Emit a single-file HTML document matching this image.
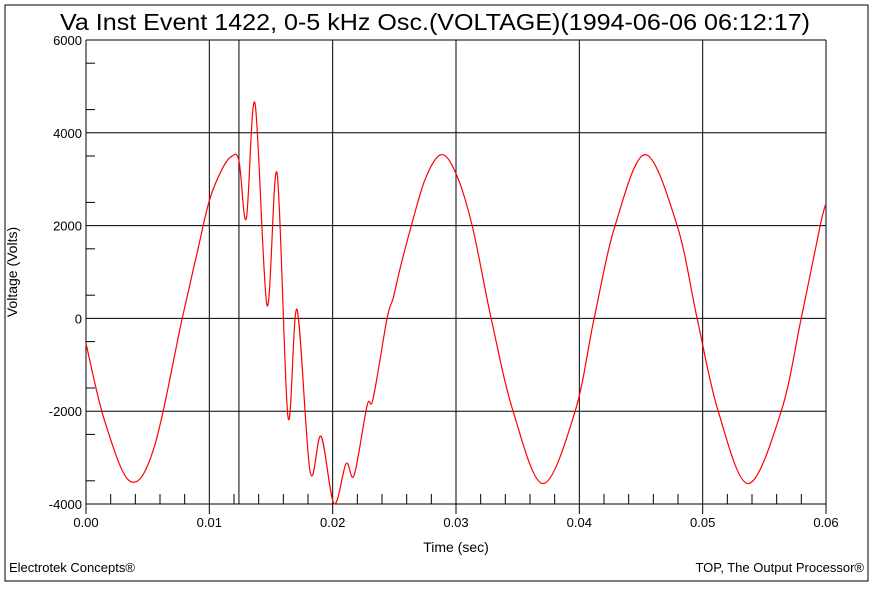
<!DOCTYPE html>
<html><head><meta charset="utf-8"><style>
body{margin:0;background:#fff;}
svg text{font-family:"Liberation Sans",sans-serif;}
</style></head><body>
<svg width="873" height="587" xmlns="http://www.w3.org/2000/svg">
<rect x="5" y="5" width="863" height="576" fill="none" stroke="#000" stroke-width="1"/>
<text x="60" y="30" font-size="23" textLength="750" lengthAdjust="spacingAndGlyphs">Va Inst Event 1422, 0-5 kHz Osc.(VOLTAGE)(1994-06-06 06:12:17)</text>
<g id="grid"></g>
<g id="axes"></g>
<path id="wave" fill="none" stroke="#f00" stroke-width="1.2"/>
<text x="17" y="272" font-size="14" text-anchor="middle" transform="rotate(-90 17 272)">Voltage (Volts)</text>
<text x="456" y="552" font-size="14" text-anchor="middle">Time (sec)</text>
<text x="9" y="572" font-size="13">Electrotek Concepts®</text>
<text x="864" y="572" font-size="13" text-anchor="end">TOP, The Output Processor®</text>
</svg>
<script>
const times=[0,0.0015,0.00357,0.0055,0.0078,0.009,0.010,0.011,0.0118,0.0124,0.0130,0.0137,0.01468,0.01549,0.01638,0.01711,0.01817,0.01906,0.02011,0.02109,0.02174,0.02279,0.02328,0.02441,0.0249,0.02547,0.02628,0.0275,0.02879,0.030,0.03131,0.03285,0.03463,0.03706,0.03966,0.0412,0.0429,0.04534,0.04793,0.04955,0.05126,0.05369,0.05637,0.05799,0.05953,0.0600];
const volts=[-540,-2200,-3510,-2800,0,1400,2540,3200,3490,3400,2150,4640,280,3130,-2130,190,-3300,-2540,-3990,-3130,-3380,-1880,-1730,0,430,1080,1900,3000,3530,3120,2000,0,-2000,-3560,-2000,0,2000,3530,2000,0,-2000,-3560,-2000,0,2000,2480];
const yTicks=[6000,4000,2000,0,-2000,-4000];
const xTicks=[0,0.01,0.02,0.03,0.04,0.05,0.06];
const xTickLabels=["0.00","0.01","0.02","0.03","0.04","0.05","0.06"];
const X0=86,X1=826,Y0=40,Y1=504;
const sx=t=>X0+(t-0)/(0.06)*(X1-X0);
const sy=v=>Y0+(6000-v)/10000*(Y1-Y0);
const NS="http://www.w3.org/2000/svg";
const grid=document.getElementById('grid'),axes=document.getElementById('axes');
function line(p,x1,y1,x2,y2,w){const l=document.createElementNS(NS,'line');l.setAttribute('x1',x1);l.setAttribute('y1',y1);l.setAttribute('x2',x2);l.setAttribute('y2',y2);l.setAttribute('stroke','#000');l.setAttribute('stroke-width',w||1);p.appendChild(l);return l;}
function txt(p,x,y,s,a){const t=document.createElementNS(NS,'text');t.setAttribute('x',x);t.setAttribute('y',y);t.setAttribute('font-size',13);t.setAttribute('text-anchor',a);t.textContent=s;p.appendChild(t);return t;}
yTicks.forEach(v=>{const l=line(grid,X0,sy(v),X1,sy(v));


const t=txt(axes,X0-4,sy(v)+5,String(v),'end');

});
for(let v=-3500;v<6000;v+=1000){const l=line(axes,X0,sy(v),X0+9,sy(v));

}
xTicks.forEach((t,i)=>{const l=line(grid,sx(t),Y0,sx(t),Y1+10);


const tt=txt(axes,sx(t),Y1+23,xTickLabels[i],'middle');

});
for(let k=1;k<30;k++){if(k%5===0)continue;const x=sx(k*0.002);const l=line(axes,x,Y1-10,x,Y1);

}
const ev=line(grid,sx(0.0124),Y0,sx(0.0124),Y1);


const pts=times.map((t,i)=>[sx(t),sy(volts[i])]);
let d='M'+pts[0][0]+','+pts[0][1];
for(let i=0;i<pts.length-1;i++){const p0=pts[Math.max(0,i-1)],p1=pts[i],p2=pts[i+1],p3=pts[Math.min(pts.length-1,i+2)];
const c1=[p1[0]+(p2[0]-p0[0])/6,p1[1]+(p2[1]-p0[1])/6],c2=[p2[0]-(p3[0]-p1[0])/6,p2[1]-(p3[1]-p1[1])/6];
d+=` C${c1[0]},${c1[1]} ${c2[0]},${c2[1]} ${p2[0]},${p2[1]}`;}
document.getElementById('wave').setAttribute('d',d);
</script>
</body></html>
